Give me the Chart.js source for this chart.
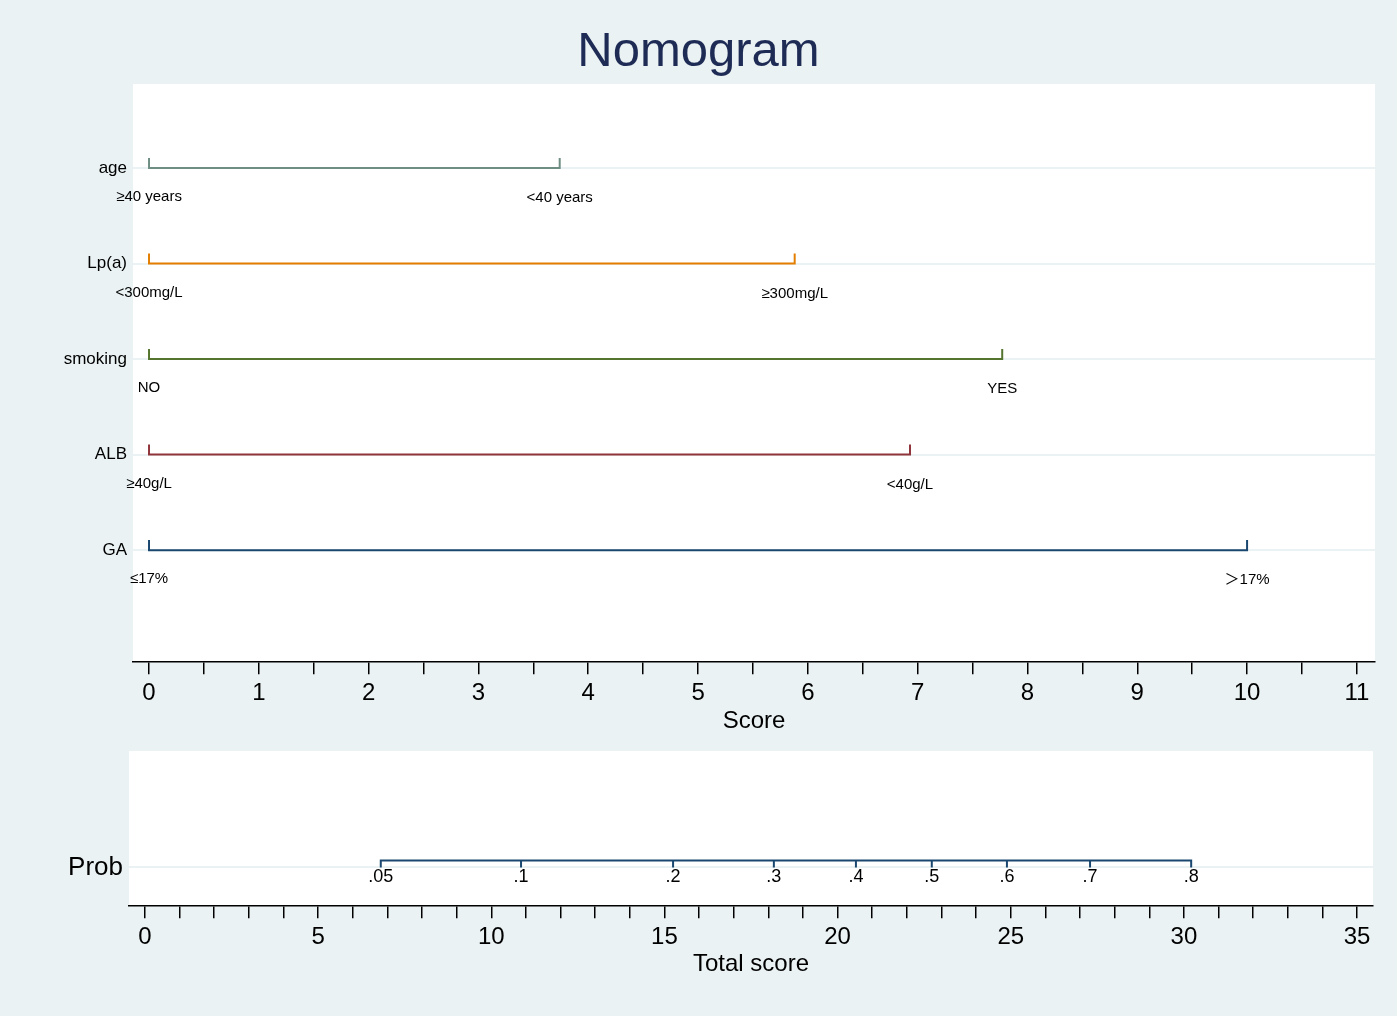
<!DOCTYPE html>
<html>
<head>
<meta charset="utf-8">
<script src="https://cdn.jsdelivr.net/npm/chart.js@4/dist/chart.umd.min.js"></script>
<style>
  body { margin: 0; background: #eaf2f3; }
  #wrap { position: relative; width: 1397px; height: 1016px; background: #eaf2f3; }
  #top { position: absolute; left: 0; top: 0; }
  #bottom { position: absolute; left: 0; top: 745px; }
</style>
</head>
<body>
<div id="wrap">
  <canvas id="top" width="1397" height="745"></canvas>
  <canvas id="bottom" width="1397" height="271"></canvas>
</div>
<script>
'use strict';

// predictors, top to bottom
var rowNames = ['age', 'Lp(a)', 'smoking', 'ALB', 'GA'];
var rowLevel = [5, 4, 3, 2, 1];
var rowMax = [3.74, 5.88, 7.77, 6.93, 10.0];
var lowLabels = ['≥40 years', '<300mg/L', 'NO', '≥40g/L', '≤17%'];
var highLabels = ['<40 years', '≥300mg/L', 'YES', '<40g/L', '＞17%'];
var rowColors = ['#6e8e84', '#e37e00', '#55752f', '#90353b', '#1a476f'];

// score axis ticks
var scoreTicks = [0, 0.5, 1, 1.5, 2, 2.5, 3, 3.5, 4, 4.5, 5, 5.5, 6, 6.5, 7, 7.5, 8, 8.5, 9, 9.5, 10, 10.5, 11];
var scoreLabels = ['0', '1', '2', '3', '4', '5', '6', '7', '8', '9', '10', '11'];

// probability scale on total score
var probLabels = ['.05', '.1', '.2', '.3', '.4', '.5', '.6', '.7', '.8'];
var probScore = [6.81, 10.86, 15.25, 18.16, 20.53, 22.72, 24.89, 27.29, 30.21];

// total score axis
var totalTicks = [0,1,2,3,4,5,6,7,8,9,10,11,12,13,14,15,16,17,18,19,20,21,22,23,24,25,26,27,28,29,30,31,32,33,34,35];
var totalLabels = ['0', '5', '10', '15', '20', '25', '30', '35'];

var FONT = '"Liberation Sans", Arial, "Noto Sans CJK SC", sans-serif';
var tickH = 0.105;   // bracket tick height in row units

// white plot region behind the marks
var plotBg = {
  id: 'plotBg',
  beforeDraw: function(chart) {
    var a = chart.chartArea, ctx = chart.ctx;
    ctx.save();
    ctx.fillStyle = '#ffffff';
    ctx.fillRect(a.left, a.top, a.right - a.left, a.bottom - a.top);
    ctx.restore();
  }
};

// graph title, centred on the whole page rather than the plot
var pageTitle = {
  id: 'pageTitle',
  afterDraw: function(chart) {
    var ctx = chart.ctx;
    ctx.save();
    ctx.fillStyle = '#1e2b55';
    ctx.font = '49px ' + FONT;
    ctx.textAlign = 'center';
    ctx.textBaseline = 'middle';
    ctx.fillText('Nomogram', chart.width / 2, 52);
    ctx.restore();
  }
};

// row names at left, level labels under bracket ends
var rowText = {
  id: 'rowText',
  afterDatasetsDraw: function(chart) {
    var ctx = chart.ctx, xs = chart.scales.x, ys = chart.scales.y;
    ctx.save();
    ctx.fillStyle = '#000';
    ctx.textBaseline = 'middle';
    for (var i = 0; i < rowNames.length; i++) {
      var y = ys.getPixelForValue(rowLevel[i]);
      ctx.font = '17px ' + FONT;
      ctx.textAlign = 'right';
      ctx.fillText(rowNames[i], chart.chartArea.left - 6, y);
      ctx.font = '15px ' + FONT;
      ctx.textAlign = 'center';
      ctx.fillText(lowLabels[i], xs.getPixelForValue(0), y + 29);
      ctx.fillText(highLabels[i], xs.getPixelForValue(rowMax[i]), y + 30);
    }
    ctx.restore();
  }
};

var topSets = rowNames.map(function(n, i) {
  var r = rowLevel[i];
  return {
    label: n,
    data: [{x: 0, y: r + tickH}, {x: 0, y: r}, {x: rowMax[i], y: r}, {x: rowMax[i], y: r + tickH}],
    borderColor: rowColors[i],
    borderWidth: 2,
    pointRadius: 0,
    showLine: true,
    tension: 0
  };
});

new Chart(document.getElementById('top'), {
  type: 'scatter',
  data: { datasets: topSets },
  options: {
    responsive: false,
    animation: false,
    layout: { padding: { left: 133, right: 22, top: 84, bottom: 12 } },
    plugins: {
      legend: { display: false },
      tooltip: { enabled: false },
      title: { display: false }
    },
    scales: {
      x: {
        type: 'linear',
        min: -0.146,
        max: 11.165,
        afterBuildTicks: function(axis) {
          axis.ticks = scoreTicks.map(function(v) { return {value: v}; });
        },
        ticks: {
          autoSkip: false,
          maxRotation: 0,
          padding: 5,
          color: '#000',
          font: { family: FONT, size: 24 },
          callback: function(v) {
            return Number.isInteger(v) ? scoreLabels[v] : '';
          }
        },
        grid: { drawOnChartArea: false, drawTicks: true, tickLength: 12, tickColor: '#000', lineWidth: 1.5 },
        border: { display: true, color: '#000', width: 1.5 },
        title: {
          display: true,
          text: 'Score',
          color: '#000',
          font: { family: FONT, size: 24, lineHeight: 1 },
          padding: { top: -4, bottom: 0 }
        }
      },
      y: {
        type: 'linear',
        min: -0.173,
        max: 5.879,
        afterBuildTicks: function(axis) {
          axis.ticks = rowLevel.map(function(v) { return {value: v}; });
        },
        ticks: { display: false },
        grid: { color: '#eaf2f3', lineWidth: 2, drawTicks: false },
        border: { display: false }
      }
    }
  },
  plugins: [plotBg, rowText, pageTitle]
});

// prob bracket: baseline with a tick down at each probability
var probRow = 0.25, probTop = 0.295;
var probPts = [];
probScore.forEach(function(s, i) {
  if (i === 0) { probPts.push({x: s, y: probRow}); }
  probPts.push({x: s, y: probTop});
  if (i > 0) { probPts.push({x: s, y: probRow}); probPts.push({x: s, y: probTop}); }
});

var probText = {
  id: 'probText',
  afterDatasetsDraw: function(chart) {
    var ctx = chart.ctx, xs = chart.scales.x, ys = chart.scales.y;
    var y = ys.getPixelForValue(probRow);
    ctx.save();
    ctx.fillStyle = '#000';
    ctx.textBaseline = 'middle';
    ctx.font = '26px ' + FONT;
    ctx.textAlign = 'right';
    ctx.fillText('Prob', chart.chartArea.left - 6, y);
    ctx.font = '18px ' + FONT;
    ctx.textAlign = 'center';
    for (var i = 0; i < probLabels.length; i++) {
      ctx.fillText(probLabels[i], xs.getPixelForValue(probScore[i]), y + 10);
    }
    ctx.restore();
  }
};

new Chart(document.getElementById('bottom'), {
  type: 'scatter',
  data: {
    datasets: [{
      label: 'Prob',
      data: probPts,
      borderColor: '#1a476f',
      borderWidth: 2,
      pointRadius: 0,
      showLine: true,
      tension: 0
    }]
  },
  options: {
    responsive: false,
    animation: false,
    layout: { padding: { left: 129, right: 24, top: 6, bottom: 40 } },
    plugins: { legend: { display: false }, tooltip: { enabled: false } },
    scales: {
      x: {
        type: 'linear',
        min: -0.46,
        max: 35.46,
        afterBuildTicks: function(axis) {
          axis.ticks = totalTicks.map(function(v) { return {value: v}; });
        },
        ticks: {
          autoSkip: false,
          maxRotation: 0,
          padding: 5,
          color: '#000',
          font: { family: FONT, size: 24 },
          callback: function(v) {
            return v % 5 === 0 ? totalLabels[v / 5] : '';
          }
        },
        grid: { drawOnChartArea: false, drawTicks: true, tickLength: 12, tickColor: '#000', lineWidth: 1.5 },
        border: { display: true, color: '#000', width: 1.5 },
        title: {
          display: true,
          text: 'Total score',
          color: '#000',
          font: { family: FONT, size: 24, lineHeight: 1 },
          padding: { top: -5, bottom: 0 }
        }
      },
      y: {
        type: 'linear',
        min: 0,
        max: 1,
        afterBuildTicks: function(axis) { axis.ticks = [{value: probRow}]; },
        ticks: { display: false },
        grid: { color: '#eaf2f3', lineWidth: 2, drawTicks: false },
        border: { display: false }
      }
    }
  },
  plugins: [plotBg, probText]
});
</script>
</body>
</html>
